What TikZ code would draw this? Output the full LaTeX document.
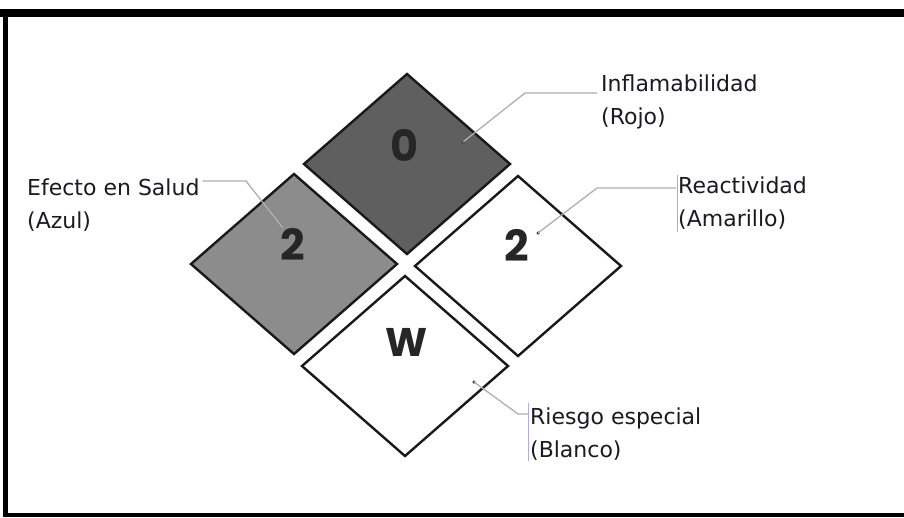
\documentclass[tikz,border=0pt]{standalone}
\usepackage{fontspec}
\setmainfont{DejaVu Sans}
\newfontfamily\numfont{Poppins}
\usetikzlibrary{shapes.geometric}
\definecolor{flamgray}{HTML}{5F5F5F}
\definecolor{healthgray}{HTML}{8C8C8C}
\definecolor{leadgray}{HTML}{AFAFAF}
\definecolor{inkdark}{HTML}{1A1A22}
\begin{document}
\begin{tikzpicture}[x=1pt,y=-1pt,
  hazard/.style={diamond, draw=black!90, line width=2.4pt, minimum width=207pt,
    minimum height=181pt, inner sep=0pt},
  rating/.style={font=\numfont\bfseries\fontsize{43}{43}\selectfont, text=black!85, inner sep=0pt},
  caption/.style={font=\fontsize{22}{26}\selectfont, text=inkdark, anchor=base west, inner sep=0pt},
  leader/.style={draw=leadgray, line width=1.3pt},
  tipdot/.style={circle, fill=black!80, inner sep=0pt, minimum size=3.5pt}
]
% canvas and frame
\useasboundingbox (0,0) rectangle (904,517);
\fill[white] (0,0) rectangle (904,517);
\fill[black] (0,9) rectangle (904,17);
\fill[black] (3,9) rectangle (8,517);
\fill[black] (3,513) rectangle (904,517);

% the four quadrants of the hazard diamond
\node[hazard, fill=flamgray]   (flam)  at (407,164) {};
\node[hazard, fill=healthgray] (salud) at (294,264) {};
\node[hazard, fill=white]      (reac)  at (518,266) {};
\node[hazard, fill=white]      (esp)   at (405,366) {};

% ratings
\node[rating] (flamN)  at (405,145) {0};
\node[rating] (saludN) at (293,244) {2};
\node[rating] (reacN)  at (517,245) {2};
\node[rating, font=\numfont\bfseries\fontsize{40}{40}\selectfont] (espN) at (407,342) {W};

% captions
\node[caption] (flamA)  at (601,91)  {Inflamabilidad};
\node[caption] (flamB)  at (601,124) {(Rojo)};
\node[caption] (salA)   at (27,195)  {Efecto en Salud};
\node[caption] (salB)   at (27,228)  {(Azul)};
\node[caption] (reacA)  at (678,193) {Reactividad};
\node[caption] (reacB)  at (678,226) {(Amarillo)};
\node[caption] (riesA)  at (530,424) {Riesgo especial};
\node[caption] (riesB)  at (530,457) {(Blanco)};

% leader end points
\node[tipdot] (flamT) at (463,142) {};
\node[tipdot] (reacT) at (538,233) {};
\node[tipdot] (riesT) at (474,382) {};
\coordinate (salT) at (283,228);
\coordinate (flamK) at (525,93);
\coordinate (salK)  at (246,181);
\coordinate (reacK) at (597,188);
\coordinate (riesK) at (518,414);

% leaders
\draw[leader] ([xshift=-4pt,yshift=-2pt]flamA.base west) -- (flamK) -- (flamT.center);
\draw[leader] ([xshift=3pt,yshift=14pt]salA.base east) -- (salK) -- (salT);
\draw[leader] ([xshift=-2pt,yshift=5pt]reacA.base west) -- (reacK) -- (reacT.center);
\draw[leader] ([xshift=-2pt,yshift=10pt]riesA.base west) -- (riesK) -- (riesT.center);
\draw[leader, line width=1pt] ([xshift=-1pt,yshift=18pt]reacA.base west) -- ([xshift=-1pt,yshift=-6pt]reacB.base west);
\draw[leader, line width=1pt, draw=leadgray!70!blue!60!white] ([xshift=-2pt,yshift=21pt]riesA.base west) -- ([xshift=-2pt,yshift=-4pt]riesB.base west);
\end{tikzpicture}
\end{document}
